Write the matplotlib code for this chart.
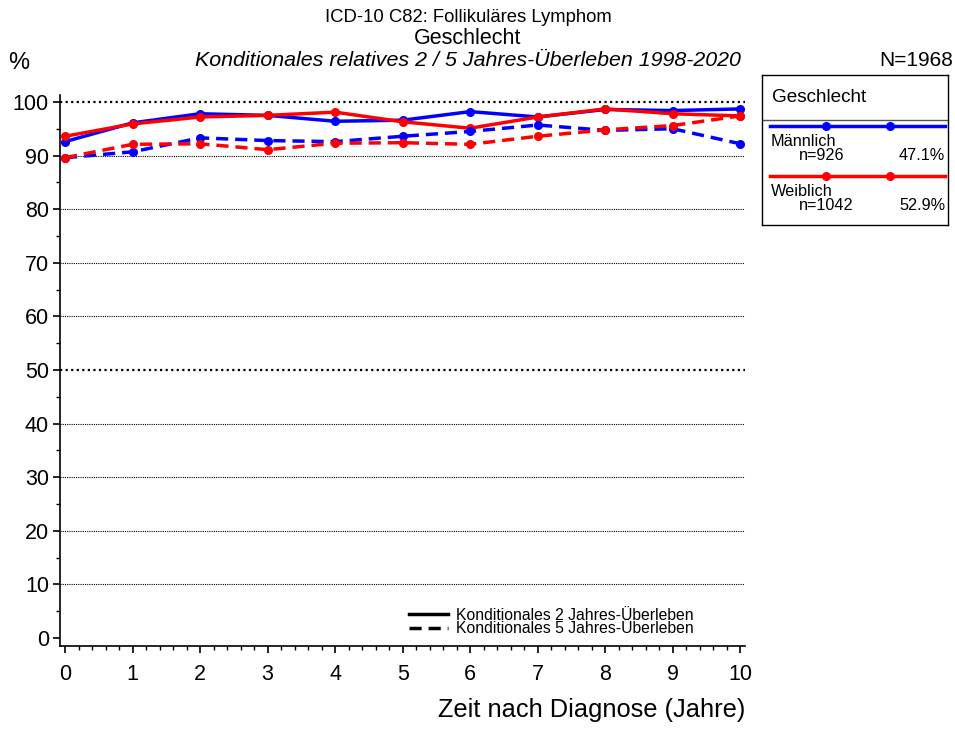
import matplotlib
matplotlib.use("Agg")
import matplotlib.pyplot as plt
from matplotlib.lines import Line2D
from matplotlib.ticker import MultipleLocator

plt.rcParams["font.family"] = ["Liberation Sans", "DejaVu Sans"]

years = [0, 1, 2, 3, 4, 5, 6, 7, 8, 9, 10]
male_2y = [92.6, 96.1, 97.8, 97.5, 96.4, 96.6, 98.2, 97.2, 98.6, 98.4, 98.7]
female_2y = [93.6, 95.9, 97.2, 97.5, 98.1, 96.3, 95.1, 97.2, 98.7, 97.8, 97.4]
male_5y = [89.6, 90.7, 93.3, 92.8, 92.6, 93.6, 94.5, 95.7, 94.7, 95.0, 92.2]
female_5y = [89.6, 92.1, 92.2, 91.1, 92.3, 92.4, 92.1, 93.6, 94.8, 95.6, 97.4]

groups = ["Männlich", "Weiblich"]
group_n = ["n=926", "n=1042"]
group_pct = ["47.1%", "52.9%"]
colors = ["#0000ff", "#ff0000"]

W, H = 955, 731
fig = plt.figure(figsize=(W / 100, H / 100), dpi=100)
ax = fig.add_axes([60 / W, 1 - 646 / H, (745 - 60) / W, (646 - 95) / H])

ax.set_xlim(-0.074, 10.07)
ax.set_ylim(-1.5, 101.3)

for y in range(10, 101, 10):
    thick = y in (50, 100)
    ax.axhline(y, color="black", linestyle=(0, (1, 1.5)) if thick else (0, (1, 1)),
               linewidth=1.6 if thick else 0.8, zorder=1)

for vals, c in [(male_2y, colors[0]), (female_2y, colors[1])]:
    ax.plot(years, vals, color=c, linewidth=2.5, marker="o", markersize=5.5, zorder=3)
for vals, c in [(male_5y, colors[0]), (female_5y, colors[1])]:
    ax.plot(years, vals, color=c, linewidth=2.5, linestyle=(0, (3.5, 2)),
            marker="o", markersize=5.5, zorder=3)

ax.spines["top"].set_visible(False)
ax.spines["right"].set_visible(False)
ax.spines["left"].set_linewidth(1.2)
ax.spines["bottom"].set_linewidth(1.2)

ax.xaxis.set_major_locator(MultipleLocator(1))
ax.xaxis.set_minor_locator(MultipleLocator(0.2))
ax.yaxis.set_major_locator(MultipleLocator(10))
ax.yaxis.set_minor_locator(MultipleLocator(5))
ax.tick_params(axis="both", which="major", labelsize=15.5, length=5, width=1.2, direction="out")
ax.tick_params(axis="both", which="minor", length=3, width=1.0)
ax.tick_params(axis="x", pad=8)
ax.tick_params(axis="y", pad=3)

ax.set_xlabel("Zeit nach Diagnose (Jahre)", fontsize=18.3, loc="right", labelpad=9)

# Linienart-Legende unten
line_handles = [Line2D([], [], color="black", linewidth=2.5),
                Line2D([], [], color="black", linewidth=2.5, linestyle=(0, (3.5, 2)))]
ax.legend(line_handles, ["Konditionales 2 Jahres-Überleben", "Konditionales 5 Jahres-Überleben"],
          loc="lower left", bbox_to_anchor=((409 - 60) / 685, 10 / 551), frameon=False,
          fontsize=11.3, handlelength=2.5, handletextpad=0.5, labelspacing=-0.1,
          borderpad=0, borderaxespad=0)

# Titel
fig.text(468 / W, 1 - 18 / H, "ICD-10 C82: Follikuläres Lymphom", ha="center", va="center", fontsize=13.3)
fig.text(468 / W, 1 - 38 / H, "Geschlecht", ha="center", va="center", fontsize=15.5)
fig.text(468 / W, 1 - 60 / H, "Konditionales relatives 2 / 5 Jahres-Überleben 1998-2020",
         ha="center", va="center", fontsize=15.4, style="italic")
fig.text(8 / W, 1 - 63 / H, "%", ha="left", va="center", fontsize=17)
fig.text(953 / W, 1 - 60 / H, "N=1968", ha="right", va="center", fontsize=15)

# Gruppen-Legende rechts
box = fig.add_axes([762 / W, 1 - 225 / H, (948 - 762) / W, (225 - 75) / H])
box.set_xlim(0, 186)
box.set_ylim(150, 0)
box.set_xticks([])
box.set_yticks([])
for s in box.spines.values():
    s.set_linewidth(1.0)
box.text(10, 22, "Geschlecht", fontsize=13.6, va="center")
box.axhline(45, color="#555555", linewidth=1.0)
row_y = [51, 101]
for i, g in enumerate(groups):
    y0 = row_y[i]
    box.plot([8, 183], [y0, y0], color=colors[i], linewidth=2.5, zorder=3)
    box.plot([64, 128], [y0, y0], "o", color=colors[i], markersize=5.5, zorder=4)
    box.text(9, y0 + 15, g, fontsize=11.7, va="center")
    box.text(37, y0 + 30, group_n[i], fontsize=11.7, va="center")
    box.text(183, y0 + 30, group_pct[i], fontsize=11.7, va="center", ha="right")

fig.savefig("out.png", dpi=100)
